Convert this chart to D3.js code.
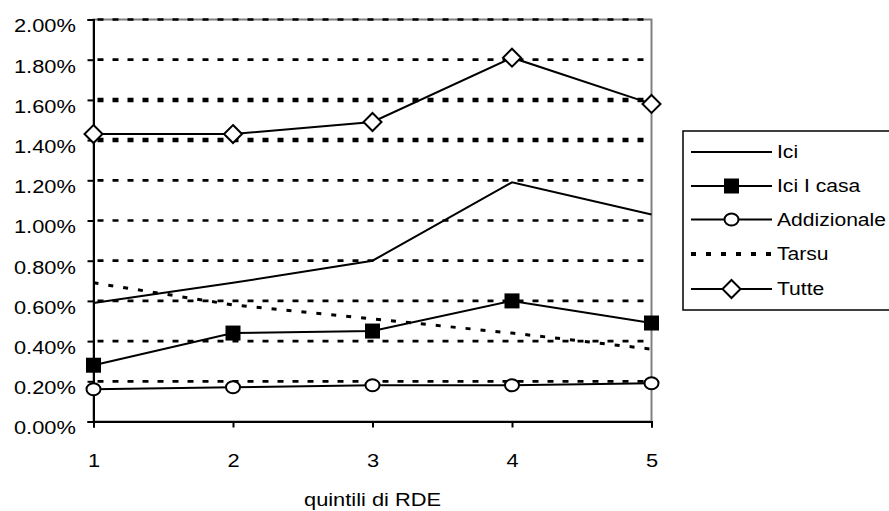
<!DOCTYPE html>
<html><head><meta charset="utf-8">
<script src="https://cdn.jsdelivr.net/npm/d3@7"></script>
<style>
html,body{margin:0;padding:0;background:#fff;overflow:hidden}
text{font-family:"Liberation Sans",Arial,sans-serif;fill:#000}
</style></head>
<body><svg id="c" width="889" height="511"></svg>
<script>
const categories = [1, 2, 3, 4, 5];
const ici = [0.59, 0.69, 0.80, 1.19, 1.03];
const iciCasa = [0.28, 0.44, 0.45, 0.60, 0.49];
const addizionale = [0.16, 0.17, 0.18, 0.18, 0.19];
const tarsu = [0.69, 0.58, 0.51, 0.44, 0.36];
const tutte = [1.43, 1.43, 1.49, 1.81, 1.58];
const yTicks = [0, 0.2, 0.4, 0.6, 0.8, 1.0, 1.2, 1.4, 1.6, 1.8, 2.0];
const seriesNames = ["Ici", "Ici I casa", "Addizionale", "Tarsu", "Tutte"];
const xTitle = "quintili di RDE";

const FS = 18.5, SX = 1.18, LSX = 1.14;
const svg = d3.select("#c");
const L = 93.5, R = 651.5, T = 19.5, B = 421.5;
const x = d3.scaleLinear().domain([1, 5]).range([L, R]);
const y = d3.scaleLinear().domain([0, 2]).range([B, T]);

// plot border (gray)
svg.append("rect").attr("x", L).attr("y", T).attr("width", R - L).attr("height", B - T)
  .attr("fill", "none").attr("stroke", "#808080").attr("stroke-width", 2);

// gridlines
svg.append("g").selectAll("line").data(yTicks.filter(d => d > 0)).join("line")
  .attr("x1", L + 4).attr("x2", R - 1).attr("y1", d => y(d)).attr("y2", d => y(d))
  .attr("stroke", "#000")
  .attr("stroke-width", d => (Math.abs(d - 1.4) < 1e-6 || Math.abs(d - 1.6) < 1e-6) ? 4.5 : 2.7)
  .attr("stroke-dasharray", "6,9");

const line = d3.line().x((d, i) => x(categories[i])).y(d => y(d));
const series = [
  {name: seriesNames[0], data: ici, marker: null, dash: null},
  {name: seriesNames[1], data: iciCasa, marker: "square", dash: null},
  {name: seriesNames[2], data: addizionale, marker: "circle", dash: null},
  {name: seriesNames[3], data: tarsu, marker: null, dash: "5,10"},
  {name: seriesNames[4], data: tutte, marker: "diamond", dash: null}
];

series.forEach(s => {
  svg.append("path").attr("d", line(s.data)).attr("fill", "none")
    .attr("stroke", "#000").attr("stroke-width", s.dash ? 3 : 2)
    .attr("stroke-dasharray", s.dash);
});

// axes
const ya = svg.append("g").attr("transform", `translate(${L},0)`)
  .call(d3.axisLeft(y).tickValues(yTicks).tickSize(6).tickFormat(d => d3.format(".2f")(d) + "%"));
ya.select(".domain").attr("stroke", "#000").attr("stroke-width", 2);
ya.selectAll(".tick line").attr("stroke", "#000").attr("stroke-width", 2);
ya.selectAll("text").attr("x", -15).attr("y", 6).attr("dy", "0.35em")
  .attr("transform", `scale(${SX},1)`).style("font-size", FS + "px").attr("font-family", null);

const xa = svg.append("g").attr("transform", `translate(0,${B})`)
  .call(d3.axisBottom(x).tickValues(categories).tickSize(6).tickFormat(d3.format("d")));
xa.select(".domain").attr("stroke", "#000").attr("stroke-width", 2);
xa.selectAll(".tick line").attr("stroke", "#000").attr("stroke-width", 2);
xa.selectAll("text").attr("y", 32).attr("dy", "0.71em")
  .attr("transform", `scale(${SX},1)`).style("font-size", FS + "px").attr("font-family", null);

svg.append("text").attr("transform", `translate(${x(3)},506) scale(${SX},1)`)
  .attr("text-anchor", "middle").style("font-size", FS + "px").text(xTitle);

function drawMarker(g, type, cx, cy) {
  if (type === "square") {
    g.append("rect").attr("x", cx - 7.5).attr("y", cy - 7.5).attr("width", 15).attr("height", 15)
      .attr("fill", "#000");
  } else if (type === "circle") {
    g.append("ellipse").attr("cx", cx).attr("cy", cy).attr("rx", 7).attr("ry", 6)
      .attr("fill", "#fff").attr("stroke", "#000").attr("stroke-width", 2);
  } else if (type === "diamond") {
    g.append("path").attr("d", `M${cx},${cy - 9}L${cx + 9},${cy}L${cx},${cy + 9}L${cx - 9},${cy}Z`)
      .attr("fill", "#fff").attr("stroke", "#000").attr("stroke-width", 2);
  }
}

const mg = svg.append("g");
series.forEach(s => {
  if (!s.marker) return;
  s.data.forEach((v, i) => drawMarker(mg, s.marker, x(categories[i]), y(v)));
});

// legend
const lg = svg.append("g");
lg.append("rect").attr("x", 683).attr("y", 131).attr("width", 240).attr("height", 179)
  .attr("fill", "#fff").attr("stroke", "#000").attr("stroke-width", 1.5);
const rowY = [152, 186, 219.5, 254, 289];
series.forEach((s, i) => {
  const yy = rowY[i];
  lg.append("line").attr("x1", 691).attr("x2", 772).attr("y1", yy).attr("y2", yy)
    .attr("stroke", "#000").attr("stroke-width", s.dash ? 4 : 2).attr("stroke-dasharray", s.dash ? "5,10" : null);
  if (s.marker) drawMarker(lg, s.marker, 731.5, yy);
  lg.append("text").attr("transform", `translate(777,${yy}) scale(${LSX},1)`)
    .attr("dy", "0.35em").style("font-size", FS + "px").text(s.name);
});
</script></body></html>
